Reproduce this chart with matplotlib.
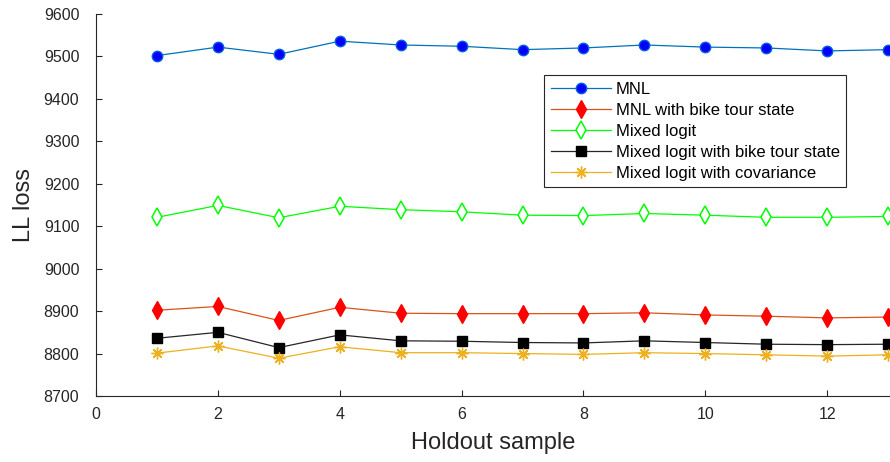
import matplotlib
matplotlib.use("Agg")
import matplotlib.pyplot as plt

plt.rcParams['font.family'] = ['Liberation Sans', 'DejaVu Sans']

holdout = list(range(1, 14))
mnl = [9502, 9522, 9505, 9536, 9527, 9524, 9516, 9520, 9527, 9522, 9520, 9513, 9516]
mnl_bike = [8902, 8911, 8878, 8909, 8895, 8894, 8894, 8894, 8896, 8891, 8888, 8884, 8886]
mixed = [9121, 9149, 9120, 9147, 9139, 9134, 9126, 9125, 9130, 9126, 9121, 9121, 9123]
mixed_bike = [8836, 8850, 8814, 8844, 8830, 8829, 8826, 8825, 8830, 8826, 8822, 8821, 8822]
mixed_cov = [8801, 8818, 8789, 8816, 8802, 8802, 8800, 8798, 8802, 8800, 8797, 8794, 8797]

series = [
    ("MNL", mnl, dict(color="#0072BD", marker="o", markerfacecolor="#0000FF",
                      markeredgecolor="#0060E0", markersize=7.5)),
    ("MNL with bike tour state", mnl_bike, dict(color="#D95319", marker="d", markerfacecolor="#FF0000",
                                                 markeredgecolor="#FF0000", markersize=9)),
    ("Mixed logit", mixed, dict(color="#00FF00", marker="d", markerfacecolor="white",
                                markeredgecolor="#00FF00", markersize=9, markeredgewidth=1.1)),
    ("Mixed logit with bike tour state", mixed_bike, dict(color="#262626", marker="s", markerfacecolor="black",
                                                          markeredgecolor="black", markersize=7)),
    ("Mixed logit with covariance", mixed_cov, dict(color="#EDB120", marker=(8, 2, 0),
                                                    markeredgecolor="#EDB120", markersize=8.5, markeredgewidth=1.0)),
]

fig = plt.figure(figsize=(8.9, 4.62), dpi=100)
left = 96 / 890
bottom = 66 / 462
height = (396 - 14) / 462
ax = fig.add_axes([left, bottom, 1 - left, height])

for label, values, style in series:
    ax.plot(holdout, values, label=label, linewidth=0.9, clip_on=False, **style)

ax.set_xlim(0, 13.03)
ax.set_ylim(8700, 9600)
ax.set_xticks(range(0, 13, 2))
ax.set_yticks(range(8700, 9601, 100))
ax.tick_params(direction="in", length=4, width=0.8, colors="#262626", labelsize=11.5)
ax.tick_params(axis="y", pad=12)
ax.tick_params(axis="x", pad=8)
for side in ["top", "right"]:
    ax.spines[side].set_visible(False)
for side in ["left", "bottom"]:
    ax.spines[side].set_color("#262626")
    ax.spines[side].set_linewidth(0.8)

ax.set_xlabel("Holdout sample", fontsize=17, color="#262626", labelpad=7)
ax.set_ylabel("LL loss", fontsize=17, color="#262626", labelpad=6)

leg = ax.legend(loc="upper left", bbox_to_anchor=(544 / 890, 1 - 75 / 462), bbox_transform=fig.transFigure,
                borderaxespad=0, fontsize=12, handlelength=3.6, labelspacing=0.36,
                fancybox=False, framealpha=1, borderpad=0.4, handletextpad=0.3)
leg.get_frame().set_edgecolor("#262626")
leg.get_frame().set_linewidth(0.8)

fig.savefig("out.png", dpi=100)
